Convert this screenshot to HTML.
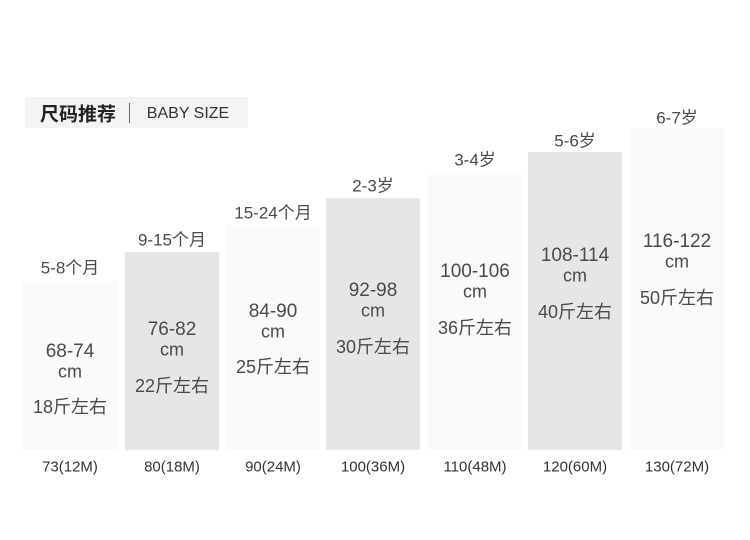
<!DOCTYPE html>
<html><head><meta charset="utf-8"><style>
body{margin:0;width:750px;height:540px;background:#fff;position:relative;overflow:hidden;font-family:"Liberation Sans","Noto Sans CJK SC",sans-serif;color:#4a4a4a}
.hd{position:absolute;left:25px;top:97px;width:223px;height:31px;background:#f4f4f4}
.t{position:absolute;white-space:nowrap;transform:translate(-50%,-50%);font-size:16px}
.b{position:absolute;width:94px}
</style></head><body>
<div class="hd"></div>
<div class="t" style="left:78px;top:113px;font-size:19px;font-weight:bold;color:#222">尺码推荐</div>
<div style="position:absolute;left:129px;top:103px;width:1px;height:20px;background:#666"></div>
<div class="t" style="left:188px;top:114px;font-size:16px;color:#333">BABY SIZE</div>
<div id="c"></div>
<script>
var d=[[23,281,'#fafafa','5-8个月',266,'68-74',352,'18斤左右',406,'73(12M)'],
[125,252,'#e6e6e6','9-15个月',238,'76-82',330,'22斤左右',385,'80(18M)'],
[226,225,'#fafafa','15-24个月',211,'84-90',312,'25斤左右',366,'90(24M)'],
[326,198,'#e6e6e6','2-3岁',184,'92-98',291,'30斤左右',346,'100(36M)'],
[428,175,'#fafafa','3-4岁',158,'100-106',272,'36斤左右',327,'110(48M)'],
[528,152,'#e6e6e6','5-6岁',139,'108-114',256,'40斤左右',311,'120(60M)'],
[630,128,'#fafafa','6-7岁',116,'116-122',242,'50斤左右',297,'130(72M)']];
var h='';d.forEach(function(a){var cx=a[0]+47;
h+='<div class="b" style="left:'+a[0]+'px;top:'+a[1]+'px;height:'+(450-a[1])+'px;background:'+a[2]+'"></div>';
h+='<div class="t" style="left:'+cx+'px;top:'+a[4]+'px;font-size:17px">'+a[3]+'</div>';
h+='<div class="t" style="left:'+cx+'px;top:'+a[6]+'px;font-size:19px">'+a[5]+'</div>';
h+='<div class="t" style="left:'+cx+'px;top:'+(a[6]+20)+'px;font-size:18px">cm</div>';
h+='<div class="t" style="left:'+cx+'px;top:'+a[8]+'px;font-size:18px">'+a[7]+'</div>';
h+='<div class="t" style="left:'+cx+'px;top:467px;font-size:15px;color:#333">'+a[9]+'</div>';});
document.getElementById('c').innerHTML=h;
</script>
</body></html>
